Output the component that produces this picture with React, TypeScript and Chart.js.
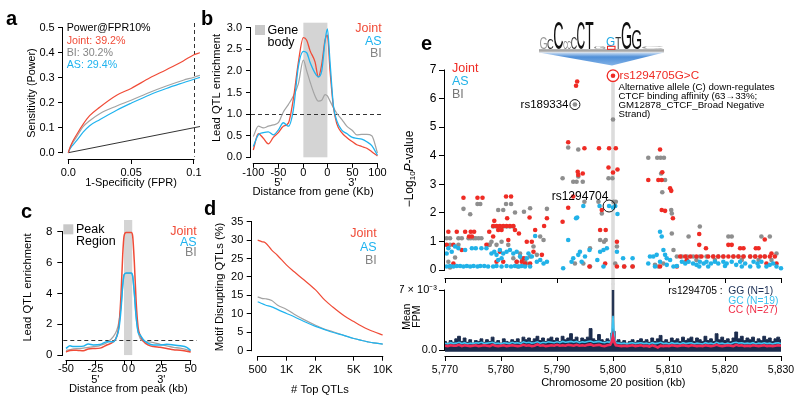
import { useEffect, useRef } from 'react';
import { Chart, registerables } from 'chart.js';

Chart.register(...registerables);

const FONT = "'Liberation Sans', Arial, Helvetica, sans-serif";

const C_RED = '#f04b37';
const C_BLUE = '#1fb3ef';
const C_GRAY = '#a3a3a3';
const T_GRAY = '#858585';
const S_RED = '#ef2b24';
const S_BLUE = '#21b2e8';
const S_GRAY = '#8e8e8e';

// ---------------- Panel a: ROC ----------------
const aFpr = [0, 0.0013, 0.003, 0.0066, 0.012, 0.017, 0.025, 0.0385, 0.05, 0.065, 0.078, 0.0915, 0.1, 0.1048];
const aJoint = [0, 0.02, 0.04, 0.072, 0.115, 0.148, 0.182, 0.23, 0.257, 0.3, 0.332, 0.367, 0.392, 0.4];
const aBI = [0, 0.018, 0.035, 0.063, 0.105, 0.128, 0.156, 0.187, 0.21, 0.242, 0.267, 0.29, 0.302, 0.31];
const aAS = [0, 0.015, 0.027, 0.048, 0.083, 0.108, 0.132, 0.17, 0.198, 0.232, 0.257, 0.28, 0.294, 0.301];
const aDiagX = [0, 0.1048];
const aDiagY = [0, 0.1048];

// ---------------- Panel b: gene metaplot ----------------
const bPos = [0, 10, 20, 30, 40, 50, 60, 70, 80, 90, 100, 106.7, 113.3, 123.3, 130, 136.7, 143.3, 148, 153.3, 160, 166.7, 176.7, 186.7, 198, 206.7, 216.7, 226.7, 236.7, 248];
const bJoint = [0.17, 0.55, 0.44, 0.31, 0.46, 0.57, 0.72, 0.79, 1.35, 2.2, 2.77, 2.71, 2.47, 2.21, 1.86, 2.15, 2.71, 2.83, 2.0, 1.17, 0.78, 0.57, 0.46, 0.36, 0.29, 0.25, 0.21, 0.13, 0.03];
const bAS = [0.25, 0.52, 0.57, 0.59, 0.52, 0.63, 0.8, 0.72, 1.1, 2.1, 2.45, 2.42, 2.2, 1.95, 1.86, 2.0, 2.68, 2.97, 2.2, 1.2, 0.85, 0.63, 0.55, 0.46, 0.44, 0.42, 0.36, 0.27, 0.05];
const bBI = [0.48, 0.72, 0.68, 0.72, 0.75, 0.8, 1.05, 1.22, 1.42, 1.7, 2.25, 2.0, 1.75, 1.42, 1.3, 1.32, 1.45, 1.42, 1.3, 1.15, 1.02, 0.88, 0.72, 0.62, 0.52, 0.53, 0.53, 0.5, 0.1];
const bTicks = [0, 50, 100, 148, 198, 248];
const bTickLabels: string[][] = [['-100'], ['-50', "5'"], ['0'], ['0'], ['50', "3'"], ['100']];

// ---------------- Panel c: peak metaplot ----------------
const cPos = [0, 3.4, 6.25, 10.5, 14.8, 19.0, 23.3, 29.0, 34.7, 40.3, 43.2, 45.2, 46.9, 48.3, 49.4, 51.1, 53.4, 55.7, 56.8, 58.2, 59.7, 61.4, 63.1, 65.9, 70.2, 74.4, 80.1, 85.8, 91.5, 97.2, 102.8, 106.2];
const cJoint = [0.2, 0.3, 0.32, 0.3, 0.28, 0.4, 0.43, 0.45, 0.65, 0.86, 1.2, 2.0, 4.0, 6.5, 7.7, 7.95, 7.95, 7.95, 7.7, 6.0, 3.5, 1.8, 1.3, 0.9, 0.65, 0.55, 0.5, 0.43, 0.35, 0.32, 0.25, 0.2];
const cAS = [0.43, 0.6, 0.55, 0.55, 0.58, 0.72, 0.66, 0.68, 0.86, 0.86, 1.2, 1.8, 3.0, 4.5, 5.2, 5.33, 5.33, 5.33, 5.1, 4.0, 2.5, 1.5, 1.3, 1.0, 0.75, 0.66, 0.65, 0.7, 0.66, 0.6, 0.5, 0.3];
const cBI = [0.3, 0.35, 0.4, 0.42, 0.45, 0.5, 0.55, 0.62, 0.8, 1.2, 1.6, 2.2, 3.2, 4.5, 5.2, 5.3, 5.3, 5.3, 5.1, 4.0, 2.5, 1.5, 1.1, 0.9, 0.85, 0.8, 0.7, 0.6, 0.5, 0.45, 0.35, 0.25];
const cTicks = [0, 25, 50, 56.2, 81.2, 106.2];
const cTickLabels: string[][] = [['-50'], ['-25', "5'"], ['0'], ['0'], ['25', "3'"], ['50']];

// ---------------- Panel d: motif disrupting ----------------
const dTop = [500, 550, 600, 700, 800, 1000, 1200, 1500, 2000, 2500, 3000, 4000, 5000, 6000, 7000, 8000, 10000];
const dJoint = [30.0, 29.6, 29.3, 27.3, 25.9, 23.2, 21.4, 19.3, 16.5, 13.7, 11.9, 9.4, 7.9, 6.7, 5.8, 5.2, 4.25];
const dBI = [14.6, 14.2, 14.1, 13.6, 12.4, 11.2, 9.9, 8.5, 6.9, 5.8, 5.2, 4.1, 3.3, 2.8, 2.4, 2.1, 1.8];
const dAS = [13.3, 12.8, 12.4, 11.9, 11.2, 10.1, 9.2, 8.0, 6.6, 5.7, 5.0, 4.1, 3.3, 2.8, 2.4, 2.1, 1.8];
const dTicks = [500, 1000, 2000, 5000, 10000];
const dTickLabels = ['500', '1K', '2K', '5K', '10K'];

// ---------------- Panel e: locus plot (kb, -log10 P) ----------------
const eJoint: [number, number][] = [
  [5770.6, 1.34], [5772.1, 1.34], [5773.3, 2.53], [5773.6, 1.34], [5774.3, 1.17], [5774.8, 1.17], [5774.6, 1.34], [5775.2, 1.34], [5775.8, 2.53], [5776.7, 2.53], [5770.3, 0.88], [5771.5, 0.88], [5773.0, 0.70], [5771.5, 0.23], [5777.9, 1.34], [5777.4, 0.88],
  [5778.8, 1.72], [5778.6, 1.54], [5779.2, 1.54], [5779.8, 1.54], [5780.4, 1.54], [5781.0, 1.54], [5781.6, 1.54], [5782.2, 1.54], [5782.5, 1.40], [5780.9, 2.57], [5781.8, 2.57], [5781.1, 1.81], [5783.2, 1.28], [5779.5, 1.40], [5780.1, 1.40], [5779.8, 0.64], [5779.2, 0.29], [5780.4, 0.29], [5778.6, 1.17], [5781.3, 1.05],
  [5785.1, 1.84], [5786.1, 1.40], [5784.6, 0.99], [5785.5, 0.99], [5783.7, 0.29], [5784.3, 0.23], [5785.2, 0.23], [5787.7, 1.54], [5788.2, 1.81], [5787.3, 0.53], [5785.8, 0.64], [5782.8, 0.29], [5784.1, 0.41],
  [5791.0, 1.69], [5792.0, 4.47], [5792.0, 2.18], [5792.9, 2.57], [5793.7, 3.44], [5793.8, 3.33], [5794.9, 4.26], [5794.6, 3.38], [5795.8, 0.12], [5797.5, 4.26], [5797.7, 1.40], [5798.7, 1.40], [5798.6, 0.23], [5798.0, 2.10], [5799.2, 3.59], [5799.3, 4.26], [5800.0, 3.41], [5800.5, 4.26], [5800.8, 3.52], [5800.7, 0.99], [5800.7, 0.12], [5802.0, 0.12], [5803.5, 0.12], [5793.4, 6.45], [5793.6, 6.6], [5800.0, 6.8],
  [5806.3, 3.15], [5808.4, 4.22], [5808.1, 3.15], [5808.7, 3.15], [5808.8, 3.42], [5808.7, 2.10], [5809.3, 2.07], [5810.2, 2.86], [5810.4, 2.77], [5810.7, 1.81], [5808.4, 0.12],
  [5812.0, 0.47], [5812.9, 0.47], [5813.8, 0.47], [5814.9, 0.47], [5815.8, 0.47], [5817.0, 0.47], [5817.9, 0.47], [5818.8, 0.47], [5819.7, 0.47], [5820.6, 0.47], [5821.5, 0.47], [5822.4, 0.47], [5823.3, 0.47], [5824.5, 0.47], [5825.4, 0.47], [5826.3, 0.47], [5827.1, 0.47], [5828.0, 0.47], [5828.9, 0.47],
  [5815.4, 1.26], [5815.4, 0.88], [5816.6, 0.76], [5820.6, 0.88], [5821.2, 0.88], [5822.7, 0.76], [5823.3, 0.76], [5825.5, 0.76], [5826.0, 0.76], [5827.1, 1.07], [5828.3, 0.58], [5827.4, 0.23], [5829.2, 0.23], [5811.4, 0.12], [5813.2, 0.35],
];
const eAS: [number, number][] = [
  [5770.3, 0.12], [5770.9, 0.14], [5771.5, 0.12], [5772.1, 0.14], [5772.7, 0.14], [5773.3, 0.12], [5773.9, 0.14], [5774.5, 0.12], [5775.1, 0.14], [5775.8, 0.12], [5776.3, 0.14], [5777.0, 0.14], [5777.7, 0.12],
  [5770.6, 0.76], [5771.2, 0.64], [5772.4, 0.76], [5773.6, 0.70], [5774.8, 0.76], [5775.5, 0.76], [5776.5, 0.76], [5777.4, 0.76], [5770.3, 0.58], [5771.8, 0.82],
  [5778.3, 0.58], [5778.8, 0.64], [5779.2, 0.53], [5779.8, 0.70], [5780.4, 0.58], [5781.0, 0.64], [5781.6, 0.70], [5782.2, 0.58], [5782.8, 0.64], [5779.5, 0.35], [5780.1, 0.41], [5778.6, 0.12], [5779.2, 0.14], [5780.1, 0.12], [5781.0, 0.14], [5781.8, 0.12], [5782.5, 0.14], [5783.2, 0.12], [5783.7, 0.14], [5784.3, 0.12], [5785.2, 0.12], [5784.6, 0.41], [5785.5, 0.47], [5786.1, 1.19], [5786.4, 0.29], [5787.0, 0.35], [5787.6, 0.23], [5788.2, 0.29], [5783.4, 0.47], [5784.9, 0.58],
  [5791.1, 0.06], [5792.0, 1.05], [5792.6, 0.29], [5793.4, 1.81], [5793.6, 1.84], [5793.8, 0.53], [5794.1, 0.64], [5794.7, 2.24], [5794.4, 0.29], [5795.0, 0.47], [5795.8, 0.70], [5797.6, 2.24], [5797.7, 0.64], [5798.3, 0.70], [5798.9, 0.76], [5799.3, 2.24], [5800.0, 2.19], [5800.4, 2.24], [5800.8, 1.96], [5800.7, 0.64], [5801.8, 0.41], [5803.5, 0.41], [5798.3, 0.12], [5797.2, 0.35], [5792.9, 0.41],
  [5808.4, 1.34], [5808.7, 1.17], [5809.0, 0.70], [5809.3, 0.53], [5809.6, 0.41], [5806.6, 0.47], [5807.2, 0.47], [5807.8, 0.53], [5808.4, 0.29], [5806.3, 0.23], [5807.5, 0.12], [5809.6, 0.18], [5810.8, 0.12], [5811.4, 0.14], [5810.2, 0.35],
  [5812.3, 0.29], [5812.9, 0.23], [5813.5, 0.29], [5814.3, 0.23], [5814.9, 0.18], [5815.5, 0.29], [5816.2, 0.23], [5816.7, 0.29], [5817.5, 0.23], [5818.2, 0.29], [5818.8, 0.23], [5819.7, 0.29], [5820.3, 0.23], [5821.2, 0.29], [5822.0, 0.18], [5822.7, 0.29], [5823.6, 0.23], [5824.5, 0.12], [5825.1, 0.29], [5825.8, 0.23], [5826.5, 0.29], [5827.4, 0.12], [5828.0, 0.18], [5828.6, 0.23], [5829.2, 0.12], [5830.0, 0.06], [5815.4, 0.12], [5817.0, 0.12], [5820.0, 0.14], [5823.0, 0.12], [5826.0, 0.12],
];
const eBI: [number, number][] = [
  [5770.3, 1.11], [5770.9, 1.11], [5772.4, 1.11], [5773.0, 1.11], [5773.3, 2.14], [5774.5, 1.95], [5774.2, 1.11], [5774.6, 1.11], [5775.1, 1.11], [5775.5, 1.11], [5776.0, 1.11], [5776.5, 1.11], [5775.8, 2.31], [5776.3, 2.31], [5770.9, 0.88], [5771.8, 0.44], [5770.6, 0.29], [5770.9, 0.09], [5772.4, 0.88], [5777.7, 0.88], [5778.0, 0.88],
  [5778.6, 1.52], [5779.2, 1.52], [5779.8, 1.52], [5780.4, 1.52], [5781.0, 1.52], [5781.6, 1.52], [5782.2, 1.52], [5779.5, 2.10], [5780.4, 2.10], [5780.9, 2.31], [5781.8, 2.31], [5782.5, 2.01], [5784.1, 2.04], [5785.2, 2.16], [5788.2, 2.14], [5787.0, 1.17], [5787.6, 1.05], [5783.4, 0.58], [5783.7, 0.41], [5784.3, 0.35], [5784.6, 0.23], [5785.2, 0.47], [5782.8, 0.29], [5782.2, 0.41], [5781.3, 0.88], [5780.1, 0.99], [5779.2, 0.88], [5785.8, 0.82], [5786.4, 0.53], [5783.0, 0.12], [5778.3, 0.99],
  [5791.0, 3.21], [5792.0, 4.29], [5792.9, 3.09], [5793.5, 3.09], [5793.8, 3.27], [5794.6, 3.09], [5793.8, 4.22], [5794.9, 2.39], [5795.9, 0.76], [5795.9, 0.12], [5797.4, 2.39], [5797.7, 1.05], [5798.0, 1.98], [5798.4, 0.99], [5798.7, 1.05], [5799.2, 3.21], [5799.9, 3.21], [5800.1, 2.39], [5800.5, 2.39], [5800.7, 0.82], [5800.4, 0.23], [5802.0, 0.12], [5803.5, 0.12], [5794.7, 0.23], [5793.2, 0.23], [5793.2, 5.79], [5800.0, 5.27],
  [5806.3, 3.93], [5807.9, 3.93], [5808.5, 3.93], [5809.1, 3.93], [5808.6, 3.38], [5808.8, 2.72], [5809.3, 3.15], [5810.4, 2.10], [5810.5, 1.98], [5810.5, 1.28], [5810.8, 0.70], [5811.4, 0.47], [5807.5, 0.18], [5808.1, 0.12], [5809.0, 0.23],
  [5812.3, 0.47], [5813.2, 0.47], [5813.5, 1.17], [5814.3, 0.47], [5815.5, 1.52], [5815.5, 0.47], [5816.7, 0.47], [5817.9, 0.47], [5818.8, 0.47], [5819.7, 0.47], [5820.6, 1.17], [5821.2, 1.17], [5821.5, 0.47], [5822.4, 0.47], [5823.3, 0.47], [5824.5, 0.47], [5825.4, 0.47], [5826.5, 1.17], [5828.0, 1.17], [5827.1, 0.47], [5828.3, 0.35], [5829.2, 0.58], [5814.9, 0.35], [5818.2, 0.35], [5823.0, 0.35], [5826.0, 0.35], [5813.0, 0.29],
];
const eKbTicks = [5770, 5780, 5790, 5800, 5810, 5820, 5830];
const eLogTicks = [0, 1, 2, 3, 4, 5, 6, 7];

// ---------------- Panel e bottom: mean FPM (x 1e-3) ----------------
const fpmPos = [
  5770, 5770.5, 5771, 5771.5, 5772, 5772.5, 5773, 5773.5, 5774, 5774.5, 5775, 5775.5, 5776, 5776.5, 5777, 5777.5, 5778, 5778.5, 5779, 5779.5,
  5780, 5780.5, 5781, 5781.5, 5782, 5782.5, 5783, 5783.5, 5784, 5784.5, 5785, 5785.5, 5786, 5786.5, 5787, 5787.5, 5788, 5788.5, 5789, 5789.5,
  5790, 5790.5, 5791, 5791.5, 5792, 5792.5, 5793, 5793.5, 5794, 5794.5, 5795, 5795.5, 5796, 5796.5, 5797, 5797.5, 5798, 5798.5, 5799, 5799.5,
  5799.75, 5800, 5800.25,
  5800.5, 5801, 5801.5, 5802, 5802.5, 5803, 5803.5, 5804, 5804.5, 5805, 5805.5, 5806, 5806.5, 5807, 5807.5, 5808, 5808.5, 5809, 5809.5, 5810,
  5810.5, 5811, 5811.5, 5812, 5812.5, 5813, 5813.5, 5814, 5814.5, 5815, 5815.5, 5816, 5816.5, 5817, 5817.5, 5818, 5818.5, 5819, 5819.5, 5820,
  5820.5, 5821, 5821.5, 5822, 5822.5, 5823, 5823.5, 5824, 5824.5, 5825, 5825.5, 5826, 5826.5, 5827, 5827.5, 5828, 5828.5, 5829, 5829.5, 5830,
];
const fpmGG = [
  1.0, 0.8, 1.1, 0.9, 1.3, 1.6, 1.0, 1.4, 0.9, 1.2, 0.8, 1.1, 1.0, 1.3, 0.9, 1.2, 1.0, 1.5, 0.9, 1.1,
  0.8, 1.3, 1.0, 0.9, 1.2, 1.0, 1.3, 0.9, 1.5, 1.2, 1.4, 1.0, 1.3, 1.6, 1.1, 1.4, 1.0, 1.3, 1.5, 1.1,
  1.4, 1.0, 1.6, 1.2, 1.4, 1.9, 1.2, 1.5, 1.0, 1.4, 1.2, 1.5, 2.5, 1.3, 1.1, 1.8, 1.2, 1.0, 1.3, 1.1,
  2.0, 7.0, 2.2,
  1.0, 1.2, 0.9, 1.1, 0.8, 1.0, 1.2, 0.9, 1.1, 1.3, 1.0, 1.2, 0.9, 1.4, 1.0, 1.3, 1.7, 1.0, 1.2, 0.9,
  1.4, 1.1, 1.3, 1.0, 1.5, 1.1, 1.3, 1.5, 1.0, 1.4, 1.2, 1.0, 1.6, 1.1, 1.3, 1.0, 1.9, 1.2, 1.5, 1.1,
  1.3, 1.0, 1.4, 2.1, 1.3, 1.6, 1.1, 1.4, 1.2, 1.5, 1.0, 1.3, 1.1, 1.6, 1.2, 1.4, 1.0, 1.3, 1.5, 1.2,
];
const fpmGC = [
  0.8, 0.7, 0.85, 0.75, 0.8, 0.9, 0.75, 0.85, 0.7, 0.8, 0.75, 0.85, 0.8, 0.9, 0.75, 0.8, 0.85, 0.9, 0.75, 0.8,
  0.7, 0.85, 0.8, 0.75, 0.9, 0.8, 0.85, 0.75, 0.95, 0.85, 0.9, 0.8, 0.85, 0.95, 0.8, 0.9, 0.85, 0.95, 0.9, 0.85,
  0.95, 0.85, 1.0, 0.9, 0.95, 1.0, 0.9, 1.0, 0.85, 0.95, 0.9, 1.0, 1.05, 0.9, 0.95, 1.0, 0.9, 0.85, 0.95, 0.9,
  1.6, 4.0, 1.5,
  0.85, 0.8, 0.75, 0.8, 0.7, 0.8, 0.85, 0.75, 0.8, 0.85, 0.75, 0.8, 0.7, 0.85, 0.75, 0.8, 0.9, 0.75, 0.8, 0.7,
  0.85, 0.75, 0.8, 0.7, 0.85, 0.75, 0.8, 0.85, 0.7, 0.8, 0.75, 0.7, 0.85, 0.75, 0.8, 0.7, 0.9, 0.75, 0.8, 0.7,
  0.8, 0.7, 0.85, 0.9, 0.8, 0.85, 0.75, 0.8, 0.75, 0.85, 0.7, 0.8, 0.75, 0.85, 0.75, 0.8, 0.7, 0.8, 0.85, 0.75,
];
const fpmCC = [
  0.5, 0.45, 0.55, 0.5, 0.5, 0.6, 0.45, 0.55, 0.5, 0.45, 0.5, 0.55, 0.45, 0.5, 0.55, 0.5, 0.45, 0.6, 0.5, 0.45,
  0.5, 0.55, 0.45, 0.5, 0.55, 0.5, 0.45, 0.5, 0.6, 0.5, 0.55, 0.45, 0.5, 0.65, 0.5, 0.55, 0.45, 0.5, 0.55, 0.5,
  0.6, 0.5, 0.55, 0.5, 0.6, 0.55, 0.5, 0.6, 0.5, 0.55, 0.5, 0.6, 0.65, 0.5, 0.55, 0.6, 0.5, 0.45, 0.55, 0.6,
  0.9, 1.6, 0.9,
  0.55, 0.5, 0.45, 0.5, 0.45, 0.5, 0.55, 0.45, 0.5, 0.55, 0.45, 0.5, 0.4, 0.55, 0.45, 0.3, 0.5, 0.45, 0.5, 0.45,
  0.55, 0.5, 0.45, 0.5, 0.55, 0.5, 0.45, 0.55, 0.5, 0.45, 0.5, 0.45, 0.55, 0.5, 0.45, 0.5, 0.6, 0.5, 0.45, 0.5,
  0.55, 0.5, 0.45, 0.6, 0.5, 0.55, 0.45, 0.5, 0.45, 0.55, 0.5, 0.45, 0.5, 0.55, 0.45, 0.5, 0.45, 0.5, 0.55, 0.5,
];

// ---------------- infrastructure ----------------
type Box = { l: number; t: number; w: number; h: number };
type Area = { l: number; t: number; r: number; b: number };
type Txt = { x: number; y: number; t: string; c?: string; f?: number; b?: boolean; a?: CanvasTextAlign; r?: boolean; bl?: CanvasTextBaseline };
type AxisSpec = {
  type?: 'linear' | 'logarithmic';
  min: number; max: number; ticks: number[];
  fmt?: (v: number, i: number) => string | string[];
  fs?: number; tl?: number; pad?: number; lh?: number; hide?: boolean;
  line?: [number, number];
};
type H = { ctx: CanvasRenderingContext2D; X: (v: number) => number; Y: (v: number) => number; ca: any; px: (v: number) => number; py: (v: number) => number };
type PanelSpec = { box: Box; area: Area; x: AxisSpec; y: AxisSpec; datasets: any[]; texts?: Txt[]; under?: (h: H) => void; over?: (h: H) => void };

function scaleOpts(s: AxisSpec, axis: 'x' | 'y', size: number) {
  return {
    type: s.type ?? 'linear',
    position: axis === 'x' ? 'bottom' : 'left',
    min: s.min,
    max: s.max,
    grid: { display: true, drawOnChartArea: false, drawTicks: true, tickLength: s.tl ?? 5, color: '#000', lineWidth: 1 },
    border: { display: false },
    ticks: {
      display: !s.hide,
      autoSkip: false,
      maxRotation: 0,
      minRotation: 0,
      padding: s.pad ?? 2,
      color: '#000',
      font: { family: FONT, size: s.fs ?? 11, lineHeight: s.lh ?? 1.2 },
      callback: (v: any, i: number) => (s.fmt ? s.fmt(Number(v), i) : String(v)),
    },
    afterBuildTicks: (sc: any) => {
      sc.ticks = s.ticks.map((v) => ({ value: v }));
    },
    afterFit: (sc: any) => {
      if (axis === 'x') sc.height = size;
      else sc.width = size;
      sc.paddingLeft = 0;
      sc.paddingRight = 0;
      sc.paddingTop = 0;
      sc.paddingBottom = 0;
    },
  };
}

function drawTexts(ctx: CanvasRenderingContext2D, box: Box, texts: Txt[]) {
  for (const it of texts) {
    ctx.save();
    ctx.font = `${it.b ? 'bold ' : ''}${it.f ?? 11}px ${FONT}`;
    ctx.fillStyle = it.c ?? '#000';
    ctx.textAlign = it.a ?? 'left';
    ctx.textBaseline = it.bl ?? 'middle';
    ctx.translate(it.x - box.l, it.y - box.t);
    if (it.r) ctx.rotate(-Math.PI / 2);
    ctx.fillText(it.t, 0, 0);
    ctx.restore();
  }
}

function buildConfig(p: PanelSpec) {
  const { box, area } = p;
  const yw = area.l - box.l;
  const xh = box.t + box.h - area.b;
  const padTop = area.t - box.t;
  const padRight = box.l + box.w - area.r;
  const helper = (chart: any): H => ({
    ctx: chart.ctx,
    X: (v: number) => chart.scales.x.getPixelForValue(v),
    Y: (v: number) => chart.scales.y.getPixelForValue(v),
    ca: chart.chartArea,
    px: (v: number) => v - box.l,
    py: (v: number) => v - box.t,
  });
  const plugin = {
    id: 'panelDecor',
    beforeDatasetsDraw(chart: any) {
      if (p.under) {
        const h = helper(chart);
        h.ctx.save();
        p.under(h);
        h.ctx.restore();
      }
    },
    afterDraw(chart: any) {
      const h = helper(chart);
      const ctx = h.ctx;
      ctx.save();
      ctx.strokeStyle = '#000';
      ctx.lineWidth = 1;
      if (p.y.line) {
        const x = Math.round(h.ca.left) - 0.5;
        ctx.beginPath();
        ctx.moveTo(x, h.Y(p.y.line[0]) + 0.5);
        ctx.lineTo(x, h.Y(p.y.line[1]) - 0.5);
        ctx.stroke();
      }
      if (p.x.line) {
        const y = Math.round(h.ca.bottom) + 0.5;
        ctx.beginPath();
        ctx.moveTo(h.X(p.x.line[0]) - 0.5, y);
        ctx.lineTo(h.X(p.x.line[1]) + 0.5, y);
        ctx.stroke();
      }
      ctx.restore();
      if (p.over) {
        ctx.save();
        p.over(h);
        ctx.restore();
      }
      if (p.texts) drawTexts(ctx, box, p.texts);
    },
  };
  return {
    type: 'line',
    data: { datasets: p.datasets },
    options: {
      responsive: false,
      maintainAspectRatio: false,
      animation: false,
      devicePixelRatio: 1,
      events: [],
      layout: { padding: { left: 0, top: padTop, right: padRight, bottom: 0 } },
      plugins: { legend: { display: false }, tooltip: { enabled: false }, title: { display: false } },
      scales: { x: scaleOpts(p.x, 'x', xh), y: scaleOpts(p.y, 'y', yw) },
    },
    plugins: [plugin],
  };
}

const lineDS = (xs: number[], ys: number[], color: string, width: number, order: number, smooth = true) => ({
  data: xs.map((x, i) => ({ x, y: ys[i] })),
  borderColor: color,
  backgroundColor: color,
  borderWidth: width,
  pointRadius: 0,
  fill: false,
  cubicInterpolationMode: smooth ? 'monotone' : 'default',
  tension: 0,
  order,
});

const ptsDS = (pts: [number, number][], color: string, order: number) => ({
  data: pts.map(([x, y]) => ({ x, y })),
  showLine: false,
  pointRadius: 2.3,
  pointBackgroundColor: color,
  pointBorderColor: color,
  pointBorderWidth: 0,
  borderColor: color,
  clip: false,
  order,
});

function square(h: H, x0: number, y0: number, x1: number, y1: number) {
  h.ctx.fillStyle = '#c8c8c8';
  h.ctx.fillRect(h.px(x0), h.py(y0), x1 - x0, y1 - y0);
}

function dashedH(h: H, yv: number) {
  const ctx = h.ctx;
  ctx.strokeStyle = '#333';
  ctx.lineWidth = 1;
  ctx.setLineDash([4, 3]);
  const y = Math.round(h.Y(yv)) + 0.5;
  ctx.beginPath();
  ctx.moveTo(h.ca.left, y);
  ctx.lineTo(h.ca.right, y);
  ctx.stroke();
  ctx.setLineDash([]);
}

// ---------------- panel specs ----------------
const PANEL_A: PanelSpec = {
  box: { l: 0, t: 0, w: 212, h: 200 },
  area: { l: 63, t: 23, r: 200, b: 159 },
  x: { min: -0.0042, max: 0.1048, ticks: [0, 0.05, 0.1], fmt: (v) => (v === 0 ? '0.0' : v === 0.05 ? '0.05' : '0.1'), pad: 2.7, line: [0, 0.1] },
  y: { min: -0.0252, max: 0.5188, ticks: [0, 0.1, 0.2, 0.3, 0.4, 0.5], fmt: (v) => v.toFixed(1), pad: 3.3, line: [0, 0.5] },
  datasets: [
    lineDS(aDiagX, aDiagY, '#333', 1, 4, false),
    lineDS(aFpr, aBI, C_GRAY, 1.2, 3),
    lineDS(aFpr, aAS, C_BLUE, 1.2, 2),
    lineDS(aFpr, aJoint, C_RED, 1.2, 1),
  ],
  under: (h) => {
    const ctx = h.ctx;
    ctx.strokeStyle = '#333';
    ctx.setLineDash([4, 3]);
    const x = Math.round(h.X(0.1)) + 0.5;
    ctx.beginPath();
    ctx.moveTo(x, h.ca.top);
    ctx.lineTo(x, h.Y(0) + 4);
    ctx.stroke();
  },
  texts: [
    { x: 6, y: 25, t: 'a', f: 20, b: true, bl: 'alphabetic' },
    { x: 66.7, y: 28.5, t: 'Power@FPR10%', f: 10.7 },
    { x: 66.7, y: 41, t: 'Joint: 39.2%', f: 10.7, c: C_RED },
    { x: 66.7, y: 53, t: 'BI: 30.2%', f: 10.7, c: T_GRAY },
    { x: 66.7, y: 65, t: 'AS: 29.4%', f: 10.7, c: C_BLUE },
    { x: 31.7, y: 93, t: 'Sensitivity (Power)', f: 10.8, r: true, a: 'center' },
    { x: 131, y: 183.3, t: '1-Specificity (FPR)', f: 11, a: 'center' },
  ],
};

const PANEL_B: PanelSpec = {
  box: { l: 200, t: 0, w: 196, h: 200 },
  area: { l: 251, t: 22.7, r: 383.3, b: 163.3 },
  x: { min: -4.6, max: 259.7, ticks: bTicks, fmt: (_v, i) => bTickLabels[i], tl: 4.5, pad: -0.5, lh: 0.95, line: [0, 248] },
  y: { min: -0.139, max: 3.116, ticks: [0, 0.5, 1, 1.5, 2, 2.5, 3], fmt: (v) => v.toFixed(1), pad: 4, line: [0, 3] },
  datasets: [
    lineDS(bPos, bBI, C_GRAY, 1.2, 3),
    lineDS(bPos, bJoint, C_RED, 1.3, 2),
    lineDS(bPos, bAS, C_BLUE, 1.3, 1),
  ],
  under: (h) => {
    h.ctx.fillStyle = '#d4d4d4';
    const x0 = h.X(100);
    const x1 = h.X(148);
    h.ctx.fillRect(x0, h.ca.top, x1 - x0, h.Y(0) - h.ca.top);
    dashedH(h, 1);
  },
  over: (h) => square(h, 255, 25, 265, 35),
  texts: [
    { x: 201, y: 25, t: 'b', f: 20, b: true, bl: 'alphabetic' },
    { x: 267.5, y: 30.7, t: 'Gene', f: 12.5 },
    { x: 267.5, y: 42.7, t: 'body', f: 12.5 },
    { x: 381.7, y: 29, t: 'Joint', f: 12.5, c: C_RED, a: 'right' },
    { x: 381.7, y: 41.7, t: 'AS', f: 12.5, c: C_BLUE, a: 'right' },
    { x: 381.7, y: 54, t: 'BI', f: 12.5, c: T_GRAY, a: 'right' },
    { x: 216.7, y: 88, t: 'Lead QTL enrichment', f: 11.2, r: true, a: 'center' },
    { x: 313, y: 191.7, t: 'Distance from gene (Kb)', f: 11.2, a: 'center' },
  ],
};

const PANEL_C: PanelSpec = {
  box: { l: 0, t: 200, w: 212, h: 202 },
  area: { l: 63.3, t: 220, r: 196.7, b: 360 },
  x: { min: -2.3, max: 111.3, ticks: cTicks, fmt: (_v, i) => cTickLabels[i], tl: 5, pad: -1, lh: 0.95, line: [0, 106.2] },
  y: { min: -0.32, max: 8.76, ticks: [0, 2, 4, 6, 8], fmt: (v) => String(v), tl: 6, pad: 5, fs: 11.5, line: [0, 8] },
  datasets: [
    lineDS(cPos, cBI, C_GRAY, 1.3, 3),
    lineDS(cPos, cJoint, C_RED, 1.5, 2),
    lineDS(cPos, cAS, C_BLUE, 1.5, 1),
  ],
  under: (h) => {
    h.ctx.fillStyle = '#d4d4d4';
    const x0 = h.X(49.4);
    const x1 = h.X(56.4);
    h.ctx.fillRect(x0, h.ca.top, x1 - x0, h.Y(0) - h.ca.top);
    dashedH(h, 1);
  },
  over: (h) => square(h, 63.3, 224.3, 73.3, 234.3),
  texts: [
    { x: 21, y: 218, t: 'c', f: 20, b: true, bl: 'alphabetic' },
    { x: 76, y: 230, t: 'Peak', f: 12.5 },
    { x: 76, y: 241.7, t: 'Region', f: 12.5 },
    { x: 196.7, y: 232, t: 'Joint', f: 12.5, c: C_RED, a: 'right' },
    { x: 196.7, y: 242.5, t: 'AS', f: 12.5, c: C_BLUE, a: 'right' },
    { x: 196.7, y: 253, t: 'BI', f: 12.5, c: T_GRAY, a: 'right' },
    { x: 28.3, y: 287.5, t: 'Lead QTL enrichment', f: 11.2, r: true, a: 'center' },
    { x: 128.3, y: 389.3, t: 'Distance from peak (kb)', f: 11.2, a: 'center' },
  ],
};

const PANEL_D: PanelSpec = {
  box: { l: 200, t: 200, w: 196, h: 202 },
  area: { l: 251.7, t: 221.7, r: 383, b: 355.7 },
  x: { type: 'logarithmic', min: 433, max: 10070, ticks: dTicks, fmt: (_v, i) => dTickLabels[i], pad: 2.7, line: [500, 10000] },
  y: { min: -1.36, max: 35, ticks: [0, 5, 10, 15, 20, 25, 30, 35], fmt: (v) => String(v), pad: 3.4, line: [0, 35] },
  datasets: [
    lineDS(dTop, dBI, C_GRAY, 1.2, 3),
    lineDS(dTop, dAS, C_BLUE, 1.2, 2),
    lineDS(dTop, dJoint, C_RED, 1.2, 1),
  ],
  texts: [
    { x: 204, y: 215, t: 'd', f: 20, b: true, bl: 'alphabetic' },
    { x: 376.7, y: 233.3, t: 'Joint', f: 12.5, c: C_RED, a: 'right' },
    { x: 376.7, y: 247.3, t: 'AS', f: 12.5, c: C_BLUE, a: 'right' },
    { x: 376.7, y: 260.7, t: 'BI', f: 12.5, c: T_GRAY, a: 'right' },
    { x: 220, y: 287, t: 'Motif Disrupting QTLs (%)', f: 11.2, r: true, a: 'center' },
    { x: 320, y: 390, t: '# Top QTLs', f: 11.2, a: 'center' },
  ],
};

// sequence logo glyphs: letter, x0, x1, baseline, height, colour
const LOGO: [string, number, number, number, number, string][] = [
  ['G', 540, 547.3, 49.3, 11, '#9a9a9a'],
  ['C', 547.5, 553.5, 49.3, 10, '#333'],
  ['C', 554, 563.3, 49.3, 27.6, '#111'],
  ['C', 563.6, 567.2, 49.3, 7, '#777'],
  ['C', 567.4, 571, 49.3, 7, '#777'],
  ['C', 571.2, 577, 49.3, 12, '#333'],
  ['C', 577.2, 585, 49.3, 27.6, '#111'],
  ['T', 585.2, 593.5, 49.3, 27.6, '#111'],
  ['G', 594, 606, 49.3, 3, '#888'],
  ['G', 606.7, 615, 45.5, 8.5, '#1da9e5'],
  ['T', 615.2, 621, 49.3, 11, '#333'],
  ['G', 621.7, 631.7, 49.3, 27.6, '#111'],
  ['G', 631.9, 641.7, 49.3, 19.3, '#111'],
  ['C', 642, 664, 49.3, 2.5, '#999'],
];

function drawLogo(h: H) {
  const ctx = h.ctx;
  const g1 = ctx.createLinearGradient(0, h.py(49.3), 0, h.py(52.6));
  g1.addColorStop(0, '#8e8e8e');
  g1.addColorStop(1, '#d0d0d0');
  ctx.fillStyle = g1;
  ctx.fillRect(h.px(539), h.py(49.3), 125, 3.3);
  const g2 = ctx.createLinearGradient(0, h.py(52.6), 0, h.py(65));
  g2.addColorStop(0, '#c9dcf2');
  g2.addColorStop(0.35, '#4f8fd8');
  g2.addColorStop(1, '#7fb0e6');
  ctx.fillStyle = g2;
  ctx.beginPath();
  ctx.moveTo(h.px(539), h.py(52.6));
  ctx.lineTo(h.px(664), h.py(52.6));
  ctx.lineTo(h.px(612), h.py(65.5));
  ctx.closePath();
  ctx.fill();
  ctx.font = `20px ${FONT}`;
  ctx.textAlign = 'left';
  ctx.textBaseline = 'alphabetic';
  for (const [ch, x0, x1, base, ht, col] of LOGO) {
    const m = ctx.measureText(ch);
    const w = m.actualBoundingBoxLeft + m.actualBoundingBoxRight;
    const hh = m.actualBoundingBoxAscent + m.actualBoundingBoxDescent;
    ctx.save();
    ctx.translate(h.px(x0), h.py(base));
    ctx.scale((x1 - x0) / w, ht / hh);
    ctx.fillStyle = col;
    ctx.fillText(ch, m.actualBoundingBoxLeft, -m.actualBoundingBoxDescent);
    ctx.restore();
  }
  ctx.strokeStyle = '#e8201c';
  ctx.lineWidth = 1;
  ctx.strokeRect(h.px(607) + 0.5, h.py(45.8) + 0.5, 7.5, 3);
}

function drawLogP(h: H, cx: number, cy: number) {
  const ctx = h.ctx;
  const parts: [string, string, number][] = [
    ['\u2212Log', `12px ${FONT}`, 0],
    ['10', `8px ${FONT}`, 3],
    ['P', `italic 12px ${FONT}`, 0],
    ['-value', `12px ${FONT}`, 0],
  ];
  let total = 0;
  const widths: number[] = [];
  for (const [t, f] of parts) {
    ctx.font = f;
    const w = ctx.measureText(t).width;
    widths.push(w);
    total += w;
  }
  ctx.save();
  ctx.translate(h.px(cx), h.py(cy));
  ctx.rotate(-Math.PI / 2);
  ctx.fillStyle = '#000';
  ctx.textBaseline = 'middle';
  ctx.textAlign = 'left';
  let x = -total / 2;
  parts.forEach(([t, f, dy], i) => {
    ctx.font = f;
    ctx.fillText(t, x, dy);
    x += widths[i];
  });
  ctx.restore();
}

const PANEL_E1: PanelSpec = {
  box: { l: 400, t: 0, w: 400, h: 285 },
  area: { l: 445, t: 70, r: 781, b: 278 },
  x: { min: 5770, max: 5830, ticks: eKbTicks, hide: true, tl: 5, line: [5770, 5830] },
  y: { min: -0.28, max: 7, ticks: eLogTicks, fmt: (v) => String(v), fs: 12, tl: 6, pad: 2.5, line: [0, 7] },
  datasets: [ptsDS(eBI, S_GRAY, 3), ptsDS(eJoint, S_RED, 2), ptsDS(eAS, S_BLUE, 1)],
  under: (h) => {
    const ctx = h.ctx;
    ctx.fillStyle = '#dcdcdc';
    const x = h.X(5800);
    ctx.fillRect(x - 1.8, h.Y(6.8) + 6.5, 3.6, h.py(285) - (h.Y(6.8) + 6.5));
  },
  over: (h) => {
    const ctx = h.ctx;
    drawLogo(h);
    ctx.lineWidth = 1;
    ctx.strokeStyle = '#111';
    ctx.beginPath();
    ctx.arc(h.X(5793.2), h.Y(5.79), 5, 0, Math.PI * 2);
    ctx.stroke();
    ctx.beginPath();
    ctx.arc(h.X(5799.3), h.Y(2.24), 6, 0, Math.PI * 2);
    ctx.stroke();
    ctx.strokeStyle = S_RED;
    ctx.lineWidth = 1.3;
    ctx.beginPath();
    ctx.arc(h.X(5800), h.Y(6.8), 5.8, 0, Math.PI * 2);
    ctx.stroke();
    drawLogP(h, 409.3, 169);
  },
  texts: [
    { x: 421, y: 50, t: 'e', f: 20, b: true, bl: 'alphabetic' },
    { x: 452, y: 68.5, t: 'Joint', f: 12.5, c: S_RED },
    { x: 452, y: 81.7, t: 'AS', f: 12.5, c: S_BLUE },
    { x: 452, y: 94.3, t: 'BI', f: 12.5, c: '#777' },
    { x: 619.5, y: 76, t: 'rs1294705G>C', f: 11.7, c: S_RED },
    { x: 618.5, y: 87.3, t: 'Alternative allele (C) down-regulates', f: 9.7 },
    { x: 618.5, y: 96.3, t: 'CTCF binding affinity (63\u219233%;', f: 9.7 },
    { x: 618.5, y: 105.2, t: 'GM12878_CTCF_Broad Negative', f: 9.7 },
    { x: 618.5, y: 114.2, t: 'Strand)', f: 9.7 },
    { x: 568.5, y: 104.5, t: 'rs189334', f: 11.5, a: 'right' },
    { x: 551.7, y: 196.7, t: 'rs1294704', f: 12 },
  ],
};

const PANEL_E2: PanelSpec = {
  box: { l: 400, t: 283, w: 400, h: 119 },
  area: { l: 445, t: 290, r: 781, b: 356 },
  x: { min: 5770, max: 5830, ticks: eKbTicks, fmt: (v) => '5,' + String(v).slice(1), fs: 10.5, tl: 5, pad: 2.7, line: [5770, 5830] },
  y: { min: -0.7, max: 7, ticks: [0, 7], fmt: (v) => (v === 0 ? '0.0' : '7 \u00d7 10\u207b\u00b3'), fs: 11, tl: 6, pad: 2, line: [0, 7] },
  datasets: [
    { ...lineDS(fpmPos, fpmGG, '#1b2c4d', 1, 3, false), fill: { value: -0.2 }, backgroundColor: '#1b2c4d', stepped: 'middle' },
    lineDS(fpmPos, fpmGC, '#3ec3f0', 1.6, 2, false),
    lineDS(fpmPos, fpmCC, '#f02a55', 2.6, 1, false),
  ],
  under: (h) => {
    h.ctx.fillStyle = '#dcdcdc';
    const x = h.X(5800);
    h.ctx.fillRect(x - 1.8, 0, 3.6, h.Y(0));
  },
  texts: [
    { x: 722.7, y: 291, t: 'rs1294705 :', f: 10.3, a: 'right' },
    { x: 728.3, y: 291, t: 'GG (N=1)', f: 10.3, c: '#1b2f55' },
    { x: 728.3, y: 300.7, t: 'GC (N=19)', f: 10.3, c: '#3cc0ee' },
    { x: 728.3, y: 310, t: 'CC (N=27)', f: 10.3, c: '#f0304a' },
    { x: 407.5, y: 316.7, t: 'Mean', f: 10.5, r: true, a: 'center' },
    { x: 417.5, y: 316.7, t: 'FPM', f: 10.5, r: true, a: 'center' },
    { x: 613.3, y: 382.7, t: 'Chromosome 20 position (kb)', f: 11, a: 'center' },
  ],
};

const PANELS = [PANEL_A, PANEL_B, PANEL_C, PANEL_D, PANEL_E1, PANEL_E2];

function ChartCanvas({ spec }: { spec: PanelSpec }) {
  const ref = useRef<HTMLCanvasElement>(null);
  useEffect(() => {
    const chart = new Chart(ref.current as HTMLCanvasElement, buildConfig(spec) as any);
    return () => chart.destroy();
  }, [spec]);
  const b = spec.box;
  return (
    <canvas
      ref={ref}
      width={b.w}
      height={b.h}
      style={{ position: 'absolute', left: b.l, top: b.t, width: b.w, height: b.h, display: 'block' }}
    />
  );
}

export default function App() {
  return (
    <div style={{ position: 'fixed', left: 0, top: 0, width: 800, height: 402, background: '#fff', overflow: 'hidden' }}>
      {PANELS.map((p, i) => (
        <ChartCanvas key={i} spec={p} />
      ))}
    </div>
  );
}
